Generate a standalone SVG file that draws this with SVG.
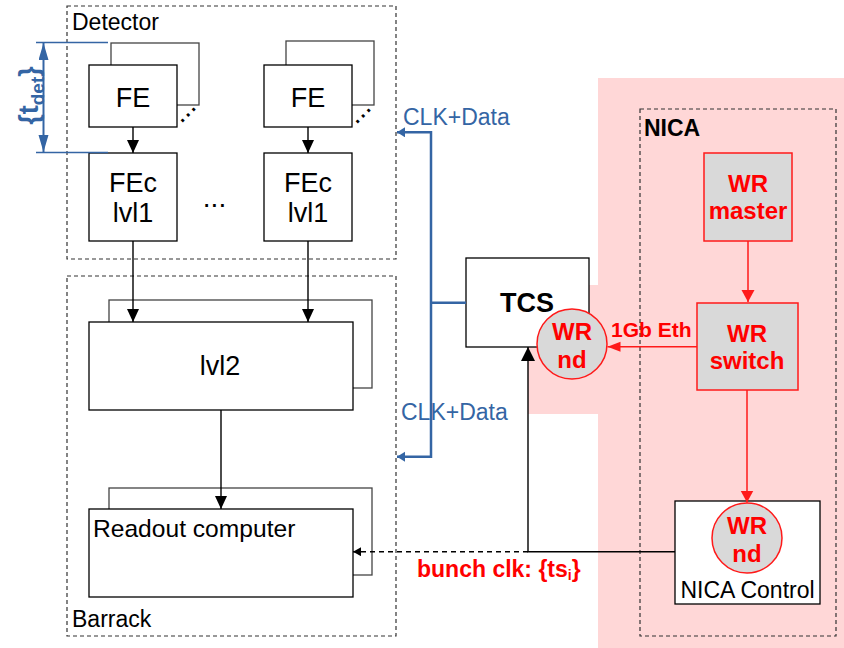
<svg xmlns="http://www.w3.org/2000/svg" width="844" height="648" viewBox="0 0 844 648">
<style>
text{font-family:"Liberation Sans",Arial,sans-serif}
.dash{fill:none;stroke:#333;stroke-width:1.2;stroke-dasharray:4 3}
.box{fill:#fff;stroke:#000;stroke-width:1.3}
.back{fill:#fff;stroke:#444;stroke-width:1.3}
.wr{fill:#d9d9d9;stroke:#ff1a1a;stroke-width:1.5}
.t27{font-size:27px;fill:#000;text-anchor:middle}
.lbl{font-size:23px;fill:#000}
.red{font-weight:bold;fill:#ff0000;font-size:24px;text-anchor:middle}
.blue{font-size:23px;fill:#3465a4}
.bl{fill:none;stroke:#000;stroke-width:1.4}
.rl{fill:none;stroke:#ff1a1a;stroke-width:1.5}
.bu{fill:none;stroke:#3465a4;stroke-width:2.5}
</style>
<defs>
<marker id="ab" markerUnits="userSpaceOnUse" markerWidth="14" markerHeight="14" refX="13" refY="6" orient="auto"><path d="M0,0 L13,6 L0,12 z" fill="#000"/></marker>
<marker id="abig" markerUnits="userSpaceOnUse" markerWidth="15" markerHeight="15" refX="14" refY="7" orient="auto"><path d="M0,0 L14,7 L0,14 z" fill="#000"/></marker>
<marker id="ar" markerUnits="userSpaceOnUse" markerWidth="14" markerHeight="14" refX="12" refY="6.5" orient="auto"><path d="M0,0 L12,6.5 L0,13 z" fill="#ff1a1a"/></marker>
<marker id="ar2" markerUnits="userSpaceOnUse" markerWidth="14" markerHeight="12" refX="13" refY="5" orient="auto"><path d="M0,0 L13,5 L0,10 z" fill="#ff1a1a"/></marker>
<marker id="au" markerUnits="userSpaceOnUse" markerWidth="10" markerHeight="12" refX="8" refY="5" orient="auto"><path d="M0,0 L8,5 L0,10 z" fill="#3465a4"/></marker>
<marker id="at" markerUnits="userSpaceOnUse" markerWidth="18" markerHeight="12" refX="17" refY="5" orient="auto-start-reverse"><path d="M0,0 L17,5 L0,10 z" fill="#3465a4"/></marker>
<marker id="ad" markerUnits="userSpaceOnUse" markerWidth="9" markerHeight="10" refX="8" refY="4.5" orient="auto"><path d="M0,0 L8,4.5 L0,9 z" fill="#000"/></marker>
</defs>

<g id="background">
<rect x="598" y="78" width="246" height="570" fill="#ffd7d7"/>
<rect x="528" y="285" width="71" height="129" fill="#ffd7d7"/>
</g>

<g id="detector">
<rect class="dash" x="67" y="6" width="329" height="253"/>
<text class="lbl" x="72" y="30">Detector</text>
</g>
<g id="barrack">
<rect class="dash" x="67" y="276" width="329" height="360"/>
<text class="lbl" x="72" y="627">Barrack</text>
</g>
<g id="nica">
<rect class="dash" x="640" y="109" width="196" height="527"/>
<text x="644" y="136" style="font-size:23px;font-weight:bold;fill:#000">NICA</text>
</g>

<g id="fe1">
<rect class="back" x="111" y="43" width="88" height="62"/>
<rect class="box" x="89" y="65" width="88" height="62"/>
<text class="t27" x="133" y="106.5">FE</text>
<text x="188.3" y="116.5" transform="rotate(-45 188.3 115)" style="font-size:28px;text-anchor:middle;fill:#000">...</text>
</g>
<g id="fe2">
<rect class="back" x="286" y="41" width="88" height="64"/>
<rect class="box" x="264" y="65" width="88" height="62"/>
<text class="t27" x="308" y="106.5">FE</text>
<text x="363.3" y="117.5" transform="rotate(-45 363.3 116)" style="font-size:28px;text-anchor:middle;fill:#000">...</text>
</g>
<g id="fec1">
<rect class="box" x="89" y="153" width="88" height="88"/>
<text class="t27" x="133" y="191.7">FEc</text>
<text class="t27" x="133" y="221.7">lvl1</text>
</g>
<g id="fec-dots">
<text x="214.5" y="207" style="font-size:28px;text-anchor:middle;fill:#000">...</text>
</g>
<g id="fec2">
<rect class="box" x="264" y="153" width="88" height="88"/>
<text class="t27" x="308" y="191.7">FEc</text>
<text class="t27" x="308" y="221.7">lvl1</text>
</g>
<g id="lvl2">
<rect class="back" x="109" y="300" width="263" height="88"/>
<rect class="box" x="89" y="322" width="264" height="88"/>
<text class="t27" x="220" y="375">lvl2</text>
</g>
<g id="readout">
<rect class="back" x="109" y="488" width="263" height="87"/>
<rect class="box" x="89" y="509" width="264" height="88"/>
<text x="93" y="537" style="font-size:24.6px;fill:#000">Readout computer</text>
</g>

<g id="tcs">
<rect class="box" x="466" y="258" width="123" height="89"/>
<text x="527" y="312" style="font-size:27px;font-weight:bold;text-anchor:middle;fill:#000">TCS</text>
</g>
<g id="wr-nd-tcs">
<circle class="wr" cx="572" cy="344" r="35"/>
<text class="red" x="572" y="340">WR</text>
<text class="red" x="572" y="367.5">nd</text>
</g>
<g id="wr-master">
<rect class="wr" x="704" y="153" width="88" height="88"/>
<text class="red" x="748" y="192">WR</text>
<text class="red" x="748" y="218.5">master</text>
</g>
<g id="wr-switch">
<rect class="wr" x="697" y="303" width="101" height="87"/>
<text class="red" x="747" y="342">WR</text>
<text class="red" x="747" y="368.5">switch</text>
</g>
<g id="nica-control">
<rect class="box" x="675" y="501" width="145" height="103"/>
<circle class="wr" cx="747" cy="538" r="35"/>
<text class="red" x="747" y="534">WR</text>
<text class="red" x="747" y="561.5">nd</text>
<text x="747.5" y="598" style="font-size:23px;text-anchor:middle;fill:#000">NICA Control</text>
</g>

<g id="tdet">
<line x1="36" y1="42.5" x2="108" y2="42.5" stroke="#3465a4" stroke-width="1.5"/>
<line x1="36" y1="152.5" x2="108" y2="152.5" stroke="#3465a4" stroke-width="1.5"/>
<line x1="43.5" y1="43" x2="43.5" y2="152" stroke="#3465a4" stroke-width="2" marker-start="url(#at)" marker-end="url(#at)"/>
<text transform="translate(38,95.5) rotate(-90)" style="font-size:27px;font-weight:bold;fill:#3465a4;text-anchor:middle">{t<tspan dy="6" style="font-size:19px">det</tspan><tspan dy="-6">}</tspan></text>
</g>

<g id="connectors">
<line class="bl" x1="133" y1="127" x2="133" y2="153" marker-end="url(#ab)"/>
<line class="bl" x1="308" y1="127" x2="308" y2="153" marker-end="url(#ab)"/>
<line class="bl" x1="133" y1="241" x2="133" y2="322" marker-end="url(#ab)"/>
<line class="bl" x1="308" y1="241" x2="308" y2="322" marker-end="url(#ab)"/>
<line class="bl" x1="221" y1="410" x2="221" y2="509" marker-end="url(#ab)"/>

<line class="bu" x1="431" y1="131" x2="431" y2="458"/>
<polyline class="bu" points="431,132.3 397,132.3" marker-end="url(#au)"/>
<polyline class="bu" points="431,456.7 397,456.7" marker-end="url(#au)"/>
<line class="bu" x1="430" y1="302.7" x2="466" y2="302.7"/>

<line class="rl" x1="748" y1="241" x2="748" y2="302" marker-end="url(#ar)"/>
<line class="rl" x1="747" y1="390" x2="747" y2="502.5" marker-end="url(#ar)"/>
<line class="rl" x1="697" y1="346.7" x2="607.5" y2="346.7" marker-end="url(#ar2)"/>

<polyline class="bl" points="675,551.7 528,551.7 528,347" stroke-width="1.6" marker-end="url(#abig)"/>
<line x1="528" y1="551.7" x2="353" y2="551.7" stroke="#000" stroke-width="1.6" stroke-dasharray="5 4" marker-end="url(#ad)"/>
</g>

<g id="labels">
<text class="blue" x="403" y="125">CLK+Data</text>
<text class="blue" x="401" y="420">CLK+Data</text>
<text x="611" y="337" style="font-size:21px;font-weight:bold;fill:#ff0000">1Gb Eth</text>
<text x="417" y="577" style="font-size:23px;font-weight:bold;fill:#ff0000">bunch clk: {ts<tspan dy="3" style="font-size:14px">i</tspan><tspan dy="-3">}</tspan></text>
</g>
</svg>
